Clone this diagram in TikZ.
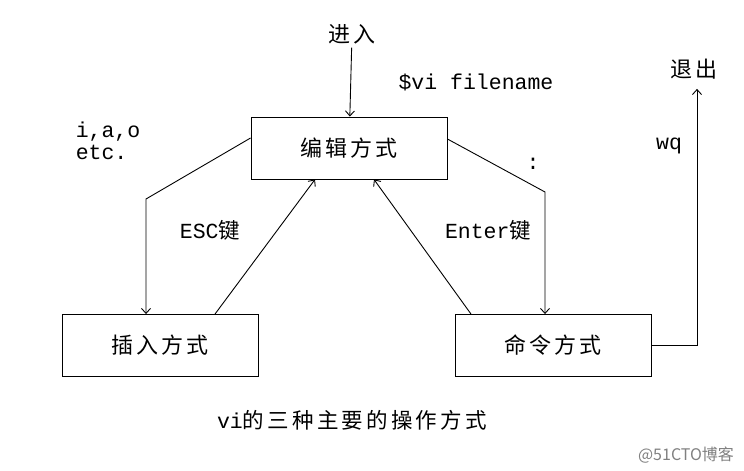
\documentclass[tikz,border=0pt]{standalone}
\usepackage{fontspec}
\setmainfont{Liberation Mono}
\newfontfamily\cjk[LetterSpace=15]{Noto Sans CJK SC}
\newfontfamily\wmfont{Noto Sans CJK SC}
\usetikzlibrary{arrows.meta}

\begin{document}
\begin{tikzpicture}[x=1pt, y=-1pt, >={Straight Barb[length=5pt,width=9pt]},
    line width=0.9pt,
    modebox/.style={draw, minimum width=196pt, minimum height=62pt, font=\fontsize{22}{24}\selectfont\cjk},
    keytext/.style={font=\fontsize{21.5}{24}\selectfont}]
    \useasboundingbox (0,0) rectangle (744,471);

    % the three modes
    \node[modebox] (edit) at (349,148) {编辑方式};
    \node[modebox] (insert) at (160,345.5) {插入方式};
    \node[modebox] (command) at (553,345.5) {命令方式};

    % entry and exit
    \node[font=\fontsize{22}{24}\selectfont\cjk] (enter) at (352,34) {进入};
    \node[font=\fontsize{22}{24}\selectfont\cjk] (quit) at (694,69) {退出};
    \coordinate (lbend) at (146,199);
    \coordinate (rbend) at (545,192);
    \coordinate (xbend) at (697,343);

    \draw[->] (enter) -- (edit);
    \draw[->] ([yshift=10pt]edit.west) -- (lbend) -- (lbend |- insert.north);
    \draw[->] ([xshift=55pt]insert.north) -- ([xshift=-34pt]edit.south);
    \draw[->] ([yshift=9pt]edit.east) -- (rbend) -- (rbend |- command.north);
    \draw[->] ([xshift=-82pt]command.north) -- ([xshift=25pt]edit.south);
    \draw[->] (command.east) -| ([xshift=3pt,yshift=-6pt]quit.south);

    % key labels
    \node[keytext] (vicmd) at (476,82) {\$vi filename};
    \node[keytext, anchor=west, align=left, font=\fontsize{21.5}{22}\selectfont] (iao) at (72,141) {i,a,o\\etc.};
    \node[keytext] (esc) at (210,230) {ESC{\cjk 键}};
    \node[keytext] (enterkey) at (488,230) {Enter{\cjk 键}};
    \node[keytext] (colon) at (533,164) {:};
    \node[keytext] (wq) at (669,146) {wq};

    % caption
    \node[keytext] (caption) at (352,420) {vi{\cjk 的三种主要的操作方式}};
    \node[text=gray, font=\fontsize{16}{18}\selectfont\wmfont] (mark) at (686,455) {@51CTO博客};
\end{tikzpicture}
\end{document}
